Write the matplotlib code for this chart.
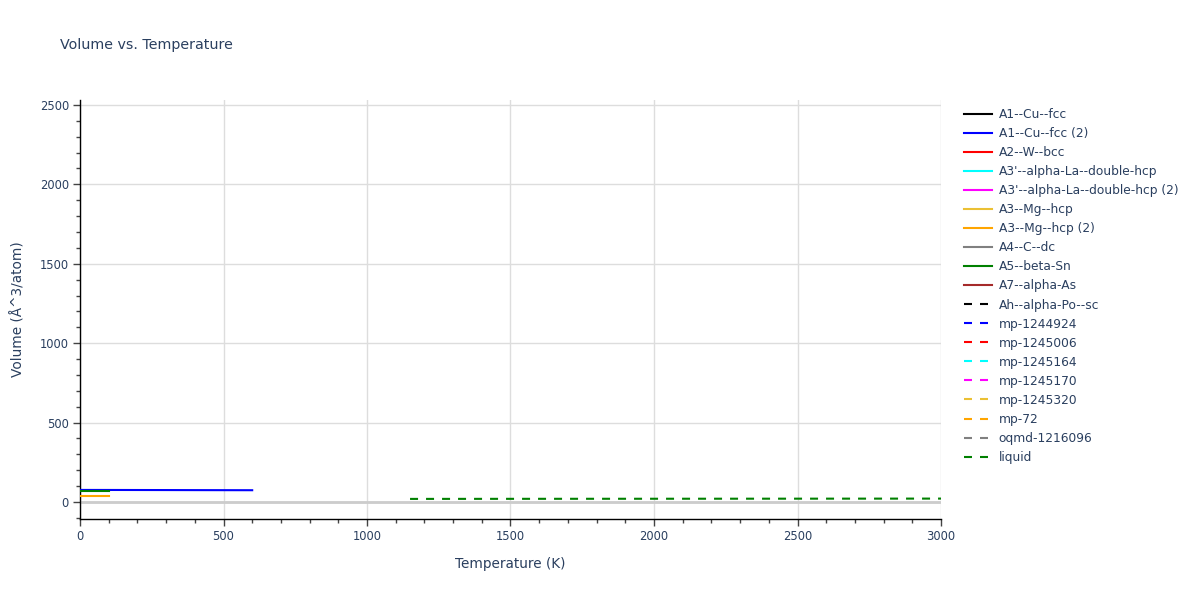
import matplotlib
matplotlib.use("Agg")
import matplotlib.pyplot as plt
from matplotlib.ticker import MultipleLocator

plt.rcParams["font.family"] = ["DejaVu Sans"]

# ---- data ----
names = ["A1--Cu--fcc", "A1--Cu--fcc (2)", "A2--W--bcc", "A3'--alpha-La--double-hcp",
         "A3'--alpha-La--double-hcp (2)", "A3--Mg--hcp", "A3--Mg--hcp (2)", "A4--C--dc",
         "A5--beta-Sn", "A7--alpha-As", "Ah--alpha-Po--sc", "mp-1244924", "mp-1245006",
         "mp-1245164", "mp-1245170", "mp-1245320", "mp-72", "oqmd-1216096", "liquid"]
colors = ["black", "blue", "red", "cyan", "magenta", "#EBC034", "orange", "gray",
          "green", "brown", "black", "blue", "red", "cyan", "magenta", "#EBC034",
          "orange", "gray", "green"]
dashed = [False] * 10 + [True] * 9

cu_fcc2_T = [0, 100, 200, 300, 400, 500, 600]
cu_fcc2_V = [76, 75.8, 75.5, 75.2, 74.8, 74.5, 74.2]
sn_T = [0, 50, 100]
sn_V = [70, 70, 70]
mg2_T = [0, 50, 100]
mg2_V = [39, 39, 39]
liq_T = [1150, 1500, 2000, 2500, 3000]
liq_V = [19.5, 20, 20.5, 21, 21.5]

series = {
    "A1--Cu--fcc (2)": (cu_fcc2_T, cu_fcc2_V),
    "A5--beta-Sn": (sn_T, sn_V),
    "A3--Mg--hcp (2)": (mg2_T, mg2_V),
    "liquid": (liq_T, liq_V),
}

text_color = "#2a3f5f"
fig = plt.figure(figsize=(12, 6), dpi=100)
ax = fig.add_axes([80 / 1200, 1 - 519 / 600, (941 - 80) / 1200, (519 - 100) / 600])

ax.set_xlim(0, 3000)
ax.set_ylim(-107, 2531)
ax.xaxis.set_major_locator(MultipleLocator(500))
ax.xaxis.set_minor_locator(MultipleLocator(100))
ax.yaxis.set_major_locator(MultipleLocator(500))
ax.yaxis.set_minor_locator(MultipleLocator(100))
ax.grid(True, which="major", color="#dddddd", linewidth=1)
ax.set_axisbelow(True)
ax.axhline(0, color="#cccccc", linewidth=2, zorder=1)
for s in ["top", "right"]:
    ax.spines[s].set_visible(False)
for s in ["left", "bottom"]:
    ax.spines[s].set_color("black")
    ax.spines[s].set_linewidth(1)
ax.tick_params(which="major", direction="out", length=5, color="#444444",
               labelsize=8.3, labelcolor=text_color, width=1, pad=3)
ax.tick_params(which="minor", direction="out", length=3, color="#444444", width=1)

handles = []
for n, c, d in zip(names, colors, dashed):
    T, V = series.get(n, ([], []))
    kw = dict(color=c, linewidth=1.5, label=n)
    if d:
        kw["dashes"] = (3.84, 3.84)
    h, = ax.plot(T, V, zorder=3, **kw)
    handles.append(h)

ax.set_xlabel("Temperature (K)", fontsize=9.8, color=text_color, labelpad=10)
ax.set_ylabel("Volume (Å^3/atom)", fontsize=9.8, color=text_color, labelpad=10)
fig.text(60 / 1200, 1 - 45 / 600, "Volume vs. Temperature", fontsize=10.3,
         color=text_color, va="center", ha="left")

leg = fig.legend(handles=handles, loc="upper left",
                 bbox_to_anchor=(964 / 1200, 1 - 108 / 600),
                 frameon=False, fontsize=8.8, labelspacing=0.495,
                 handlelength=2.3, handletextpad=0.55, borderaxespad=0,
                 borderpad=0)
for t in leg.get_texts():
    t.set_color(text_color)

fig.savefig("out.png", dpi=100)
